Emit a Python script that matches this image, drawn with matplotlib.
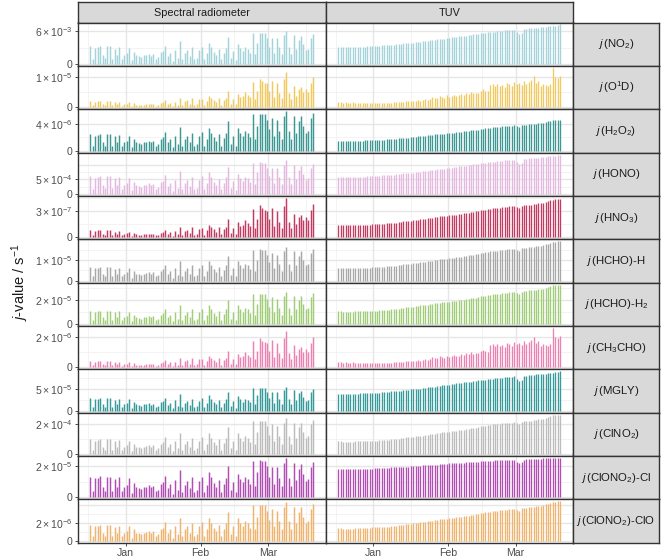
"""
Photolysis frequencies: spectral radiometer vs TUV model, Dec to Mar.

Daily peak j-values are kept as a reference cloud pattern (read from the
H2O2 radiometer panel) and clear-sky envelopes (read from the TUV panels).
Each row is scaled to the peak value read from its own panel.
"""

import numpy as np
import matplotlib

matplotlib.use("Agg")
import matplotlib.pyplot as plt

plt.rcParams["font.family"] = ["Liberation Sans", "DejaVu Sans"]
plt.rcParams["mathtext.fontset"] = "custom"
plt.rcParams["mathtext.rm"] = "Liberation Sans"
plt.rcParams["mathtext.it"] = "Liberation Sans:italic"
plt.rcParams["mathtext.bf"] = "Liberation Sans:bold"

# days are counted from 1 Jan; first measured day is 17 Dec (-15), 93 days
first_day = -15
month_ticks = [0, 31, 59]
month_labels = ["Jan", "Feb", "Mar"]

# daily peak heights of the radiometer H2O2 panel (relative units)
spec_ref = [50, 15, 45, 47, 50, 25, 15, 50, 50, 15,
            43, 25, 47, 15, 25, 30, 45, 10, 35, 25,
            23, 20, 25, 27, 30, 25, 30, 15, 20, 35,
            40, 57, 25, 35, 10, 45, 20, 72, 15, 35,
            45, 25, 55, 15, 20, 45, 57, 15, 35, 70,
            55, 40, 30, 50, 15, 37, 55, 90, 20, 45,
            15, 70, 55, 45, 60, 55, 40, 110, 35, 75,
            112, 110, 110, 93, 65, 100, 45, 93, 60, 35,
            105, 120, 60, 35, 105, 55, 90, 105, 75, 55,
            60, 100, 115]

# clear-sky daily envelopes (end of period = 1)
env_vis = [0.43, 0.43, 0.42, 0.42, 0.42, 0.42, 0.43, 0.43, 0.43, 0.44,
           0.44, 0.44, 0.45, 0.45, 0.45, 0.46, 0.46, 0.46, 0.47, 0.47,
           0.47, 0.48, 0.49, 0.49, 0.50, 0.50, 0.51, 0.52, 0.52, 0.53,
           0.54, 0.54, 0.55, 0.56, 0.56, 0.57, 0.58, 0.59, 0.60, 0.60,
           0.61, 0.62, 0.63, 0.64, 0.64, 0.65, 0.66, 0.67, 0.68, 0.69,
           0.70, 0.71, 0.72, 0.72, 0.73, 0.74, 0.75, 0.76, 0.77, 0.78,
           0.78, 0.79, 0.80, 0.80, 0.81, 0.82, 0.83, 0.83, 0.84, 0.85,
           0.85, 0.86, 0.86, 0.87, 0.80, 0.75, 0.78, 0.88, 0.89, 0.90,
           0.90, 0.91, 0.92, 0.92, 0.93, 0.94, 0.94, 0.95, 0.96, 0.96,
           0.97, 0.98, 1.00]

env_uva = [0.32, 0.32, 0.31, 0.31, 0.31, 0.31, 0.31, 0.32, 0.32, 0.32,
           0.32, 0.33, 0.33, 0.33, 0.34, 0.34, 0.34, 0.35, 0.35, 0.35,
           0.36, 0.36, 0.37, 0.38, 0.38, 0.39, 0.40, 0.41, 0.42, 0.42,
           0.43, 0.44, 0.45, 0.46, 0.47, 0.47, 0.48, 0.49, 0.50, 0.51,
           0.52, 0.53, 0.54, 0.55, 0.55, 0.56, 0.57, 0.58, 0.58, 0.59,
           0.60, 0.61, 0.62, 0.63, 0.64, 0.65, 0.66, 0.67, 0.68, 0.70,
           0.71, 0.72, 0.73, 0.74, 0.75, 0.76, 0.76, 0.77, 0.78, 0.78,
           0.79, 0.80, 0.80, 0.81, 0.78, 0.76, 0.82, 0.83, 0.84, 0.85,
           0.85, 0.86, 0.87, 0.88, 0.88, 0.90, 0.92, 0.94, 0.96, 0.98,
           0.99, 1.00, 1.00]

env_uvb = [0.13, 0.13, 0.12, 0.13, 0.12, 0.12, 0.13, 0.12, 0.12, 0.12,
           0.11, 0.12, 0.12, 0.11, 0.12, 0.12, 0.11, 0.12, 0.12, 0.11,
           0.11, 0.12, 0.12, 0.13, 0.13, 0.14, 0.13, 0.14, 0.15, 0.15,
           0.16, 0.16, 0.17, 0.19, 0.17, 0.18, 0.20, 0.19, 0.22, 0.26,
           0.24, 0.23, 0.28, 0.25, 0.24, 0.30, 0.26, 0.28, 0.32, 0.29,
           0.30, 0.34, 0.31, 0.36, 0.33, 0.38, 0.35, 0.37, 0.36, 0.41,
           0.45, 0.42, 0.40, 0.56, 0.58, 0.53, 0.60, 0.55, 0.57, 0.52,
           0.62, 0.58, 0.55, 0.64, 0.60, 0.62, 0.56, 0.66, 0.60, 0.65,
           0.70, 0.78, 0.62, 0.66, 0.55, 0.58, 0.56, 0.55, 0.60, 1.00,
           0.77, 0.74, 0.80]

env_flat = [0.72, 0.72, 0.71, 0.71, 0.71, 0.71, 0.72, 0.72, 0.72, 0.72,
            0.72, 0.73, 0.73, 0.73, 0.73, 0.74, 0.74, 0.74, 0.74, 0.75,
            0.75, 0.75, 0.76, 0.76, 0.76, 0.77, 0.77, 0.78, 0.78, 0.78,
            0.79, 0.79, 0.80, 0.80, 0.80, 0.81, 0.81, 0.82, 0.82, 0.83,
            0.83, 0.83, 0.84, 0.84, 0.85, 0.85, 0.86, 0.86, 0.87, 0.87,
            0.88, 0.88, 0.88, 0.89, 0.89, 0.90, 0.90, 0.91, 0.91, 0.92,
            0.92, 0.92, 0.93, 0.93, 0.93, 0.94, 0.94, 0.94, 0.95, 0.95,
            0.95, 0.96, 0.96, 0.96, 0.91, 0.88, 0.90, 0.96, 0.97, 0.97,
            0.97, 0.98, 0.98, 0.98, 0.98, 0.99, 0.99, 0.99, 0.99, 1.00,
            1.00, 1.00, 1.00]

species = [r"$\it{j}\,$(NO$_2$)", r"$\it{j}\,$(O$^1$D)", r"$\it{j}\,$(H$_2$O$_2$)",
           r"$\it{j}\,$(HONO)", r"$\it{j}\,$(HNO$_3$)", r"$\it{j}\,$(HCHO)-H",
           r"$\it{j}\,$(HCHO)-H$_2$", r"$\it{j}\,$(CH$_3$CHO)", r"$\it{j}\,$(MGLY)",
           r"$\it{j}\,$(ClNO$_2$)", r"$\it{j}\,$(ClONO$_2$)-Cl", r"$\it{j}\,$(ClONO$_2$)-ClO"]
colors = ["#a4d3da", "#f1c95f", "#3d9893", "#e4b9e0", "#c23b63", "#a8a8a8",
          "#a0cd78", "#ec82b3", "#36999a", "#bcbcbc", "#b14eb4", "#efb46e"]
spec_env = ["vis", "uvb", "uva", "vis", "uvb", "uva",
            "uva", "uvb", "vis", "uva", "vis", "uva"]
tuv_env = ["vis", "uvb", "uva", "vis", "uva", "uva",
           "uva", "uvb", "vis", "uva", "flat", "uva"]
tick_vals = [6e-3, 1e-5, 4e-6, 5e-4, 3e-7, 1e-5, 2e-5, 2e-6, 5e-5, 2e-4, 2e-5, 2e-6]
tick_texts = [r"$6\times10^{-3}$", r"$1\times10^{-5}$", r"$4\times10^{-6}$",
              r"$5\times10^{-4}$", r"$3\times10^{-7}$", r"$1\times10^{-5}$",
              r"$2\times10^{-5}$", r"$2\times10^{-6}$", r"$5\times10^{-5}$",
              r"$2\times10^{-4}$", r"$2\times10^{-5}$", r"$2\times10^{-6}$"]
spec_max = [6.05e-3, 1.18e-5, 5.85e-6, 1.15e-3, 4.5e-7, 1.64e-5,
            2.7e-5, 2.4e-6, 5.5e-5, 2.35e-4, 2.5e-5, 4.3e-6]
tuv_max = [7.25e-3, 1.31e-5, 4.6e-6, 1.35e-3, 4.4e-7, 1.93e-5,
           3.3e-5, 2.6e-6, 9.1e-5, 2.6e-4, 2.5e-5, 4.4e-6]
columns = ["Spectral radiometer", "TUV"]

W, H = 661, 560
GRID_MAJOR = "#e6e6e6"
GRID_MINOR = "#f1f1f1"
BORDER = "#333333"
STRIP = "#d9d9d9"
TEXT = "#4d4d4d"


def add_px_axes(fig, x0, y0, x1, y1, **kw):
    return fig.add_axes([x0 / W, 1 - y1 / H, (x1 - x0) / W, (y1 - y0) / H], **kw)


def style_strip(ax):
    ax.set_facecolor(STRIP)
    ax.set_xticks([])
    ax.set_yticks([])
    for s in ax.spines.values():
        s.set_color(BORDER)
        s.set_linewidth(1.0)


def main():
    envs = {"vis": np.array(env_vis), "uva": np.array(env_uva),
            "uvb": np.array(env_uvb), "flat": np.array(env_flat)}
    cloud = np.array(spec_ref, dtype=float) / envs["uva"]
    days = first_day + np.arange(len(spec_ref)) + 0.5
    n = len(spec_ref)
    xlo, xhi = first_day - 0.05 * n, first_day + n + 0.05 * n

    fig = plt.figure(figsize=(W / 100, H / 100), dpi=100)

    col_x = [(78, 325.5), (326, 572.5)]
    strip_x = (573, 659)
    top, row_h = 22.5, 43.35

    for c, name in enumerate(columns):
        sax = add_px_axes(fig, col_x[c][0], 2, col_x[c][1], top)
        style_strip(sax)
        sax.text(0.5, 0.47, name, ha="center", va="center", fontsize=7.8,
                 color="#1a1a1a", transform=sax.transAxes)

    for r in range(len(species)):
        y0 = top + r * row_h
        y1 = y0 + row_h
        spec = cloud * envs[spec_env[r]]
        spec = spec / spec.max() * spec_max[r]
        tuv = envs[tuv_env[r]] / envs[tuv_env[r]].max() * tuv_max[r]
        top_val = max(spec_max[r], tuv_max[r])
        ylo, yhi = -0.05 * top_val, 1.05 * top_val

        for c, vals in enumerate([spec, tuv]):
            ax = add_px_axes(fig, col_x[c][0], y0, col_x[c][1], y1)
            ax.set_xlim(xlo, xhi)
            ax.set_ylim(ylo, yhi)
            for xm in [-15.5, 15.5, 45, 74.5]:
                ax.axvline(xm, color=GRID_MINOR, lw=0.6, zorder=0)
            for ym in [tick_vals[r] / 2, tick_vals[r] * 1.5]:
                if ym < yhi:
                    ax.axhline(ym, color=GRID_MINOR, lw=0.6, zorder=0)
            for xm in month_ticks:
                ax.axvline(xm, color=GRID_MAJOR, lw=1.0, zorder=0)
            for ym in [0, tick_vals[r], tick_vals[r] * 2]:
                if ym < yhi:
                    ax.axhline(ym, color=GRID_MAJOR, lw=1.0, zorder=0)
            lw = 1.05 if c == 0 else 0.95
            ax.vlines(days, 0, vals, color=colors[r], lw=lw, zorder=2)
            for s in ax.spines.values():
                s.set_color(BORDER)
                s.set_linewidth(1.0)
            ax.set_xticks(month_ticks)
            ax.set_yticks([0, tick_vals[r]])
            ax.tick_params(length=2.5, width=0.6, color=BORDER, labelsize=7.6,
                           labelcolor=TEXT, pad=1.5)
            if c == 0:
                ax.set_yticklabels(["0", tick_texts[r]])
            else:
                ax.tick_params(axis="y", length=0, labelleft=False)
            if r == len(species) - 1:
                ax.set_xticklabels(month_labels)
            else:
                ax.tick_params(axis="x", length=0, labelbottom=False)

        rax = add_px_axes(fig, strip_x[0], y0, strip_x[1], y1)
        style_strip(rax)
        rax.text(0.5, 0.5, species[r], ha="center", va="center", fontsize=8.2,
                 color="#1a1a1a", transform=rax.transAxes)

    fig.text(20 / W, 1 - 282.6 / H, r"$\it{j}$-value / s$^{-1}$", rotation=90,
             ha="center", va="center", fontsize=10.5, color="#1a1a1a")

    fig.savefig("out.png", dpi=100, facecolor="white")
    plt.close(fig)


if __name__ == "__main__":
    main()
